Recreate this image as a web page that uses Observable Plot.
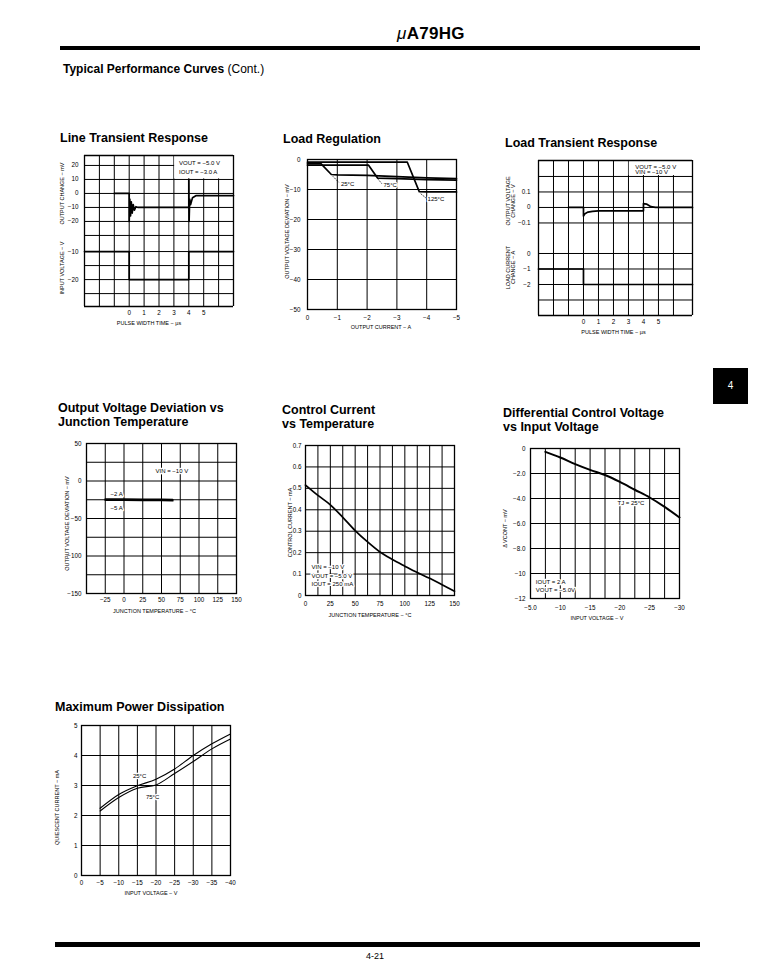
<!DOCTYPE html>
<html><head><meta charset="utf-8">
<script src="https://cdn.jsdelivr.net/npm/d3@7"></script>
<script src="https://cdn.jsdelivr.net/npm/@observablehq/plot@0.6"></script>
<style>
body{margin:0;background:#fff;}
#page{position:relative;width:760px;height:973px;overflow:hidden;font-family:"Liberation Sans",Arial,Helvetica,sans-serif;color:#000;background:#fff;}
.abs{position:absolute;white-space:nowrap;}
.ttl{font-weight:bold;font-size:12.5px;line-height:14px;}
</style></head><body><div id="page"></div>
<script>
// ---------------- DATA ----------------
// 1. Line Transient Response
const ltrOutT = [-1, 0, 0, 0.04, 0.09, 0.14, 0.2, 0.27, 0.35, 0.45, 0.6, 4, 4, 4.02, 4.06, 4.12, 4.25, 4.5, 7];
const ltrOutV = [0, 0, -20, -4, -16, -6, -14, -8, -12, -9.5, -10, -10, 10, -20, -4, -8, -3, -1.5, -1.5];
const ltrInT = [-3, 0, 0, 4, 4, 7];
const ltrInV = [-10, -10, -20, -20, -10, -10];
const ltrTimeTicks = [0, 1, 2, 3, 4, 5];
const ltrTimeGrid = [-2, -1, 0, 1, 2, 3, 4, 5, 6];
const ltrOutTicks = [20, 10, 0, -10, -20];
const ltrOutGrid = [20, 10, 0, -10, -20, -30];
const ltrInTicks = [-10, -20];
const ltrInGrid = [-10, -15, -20, -25];
const ltrNotes = ["VOUT = −5.0 V", "IOUT = −3.0 A"];
const ltrNoteT = [3.35, 3.35];
const ltrNoteV = [21.4, 15];

// 2. Load Regulation
const lrI25 = [0, -0.45, -0.8, -1, -2, -3, -4, -5];
const lrV25 = [-1.4, -1.4, -5, -5.1, -5.3, -5.7, -6.1, -6.4];
const lrI75 = [0, -2.05, -2.35, -3, -4, -5];
const lrV75 = [-1.9, -1.9, -6.2, -6.4, -6.7, -6.9];
const lrI125 = [0, -3.35, -3.75, -4, -5];
const lrV125 = [-0.9, -0.9, -10.7, -10.8, -10.8];
const lrLabels = ["25°C", "75°C", "125°C"];
const lrLabelI = [-1.12, -2.55, -4.03];
const lrLabelV = [-8.2, -8.6, -13.3];
const lrLeadI1 = [-0.85, -2.37, -3.8], lrLeadV1 = [-5.6, -6.6, -11.4];
const lrLeadI2 = [-1.05, -2.5, -3.97], lrLeadV2 = [-7.6, -8.1, -12.8];
const lrITicks = [0, -1, -2, -3, -4, -5];
const lrVTicks = [0, -10, -20, -30, -40, -50];

// 3. Load Transient Response
const ldtOutT = [-1, 0, 0, 0.1, 0.3, 0.6, 1, 4, 4, 4.2, 4.5, 4.8, 7.27];
const ldtOutV = [0, 0, -0.055, -0.04, -0.03, -0.025, -0.022, -0.022, 0.025, 0.022, 0.005, 0, 0];
const ldtLoadT = [-3, 0, 0, 7.27];
const ldtLoadA = [-1, -1, -2, -2];
const ldtTimeTicks = [0, 1, 2, 3, 4, 5];
const ldtTimeGrid = [-2, -1, 0, 1, 2, 3, 4, 5, 6];
const ldtOutTicks = [0.1, 0, -0.1];
const ldtOutGrid = [0.2, 0.1, 0, -0.1];
const ldtLoadTicks = [0, -1, -2];
const ldtLoadGrid = [0, -1, -2, -3];
const ldtNotes = ["VOUT = −5.0 V", "VIN = −10 V"];
const ldtNoteT = [3.45, 3.45];
const ldtNoteV = [0.262, 0.226];

// 4. Output Voltage Deviation vs Junction Temperature
const ovdT = [-25, 0, 25, 50, 65];
const ovd2A = [-24, -24, -24.3, -24.6, -24.8];
const ovd5A = [-25.5, -25.6, -25.8, -26, -26.2];
const ovdTTicks = [-25, 0, 25, 50, 75, 100, 125, 150];
const ovdTGrid = [-25, 0, 25, 50, 75, 100, 125];
const ovdVTicks = [50, 0, -50, -100, -150];
const ovdVGrid = [25, 0, -25, -50, -75, -100, -125];
const ovdNotes = ["−2 A", "−5 A", "VIN = −10 V"];
const ovdNoteT = [-18, -18, 42];
const ovdNoteV = [-18, -36, 13];

// 5. Control Current vs Temperature
const ccT = [0, 12.5, 25, 37.5, 50, 62.5, 75, 87.5, 100, 112.5, 125, 137.5, 150];
const ccI = [0.515, 0.467, 0.423, 0.365, 0.303, 0.25, 0.203, 0.168, 0.137, 0.107, 0.08, 0.05, 0.02];
const ccTTicks = [0, 25, 50, 75, 100, 125, 150];
const ccTGrid = [12.5, 25, 37.5, 50, 62.5, 75, 87.5, 100, 112.5, 125, 137.5];
const ccITicks = [0, 0.1, 0.2, 0.3, 0.4, 0.5, 0.6, 0.7];
const ccIGrid = [0.1, 0.2, 0.3, 0.4, 0.5, 0.6];
const ccNotes = ["VIN = −10 V", "VOUT = −5.0 V", "IOUT = 250 mA"];
const ccNoteT = [6, 6, 6];
const ccNoteI = [0.131, 0.092, 0.053];

// 6. Differential Control Voltage vs Input Voltage
const dcvVin = [-7.5, -10, -12.5, -15, -17.5, -20, -22.5, -25, -27.5, -30];
const dcvDv = [-0.27, -0.72, -1.25, -1.71, -2.12, -2.67, -3.3, -3.92, -4.67, -5.52];
const dcvXTicks = [-5, -10, -15, -20, -25, -30];
const dcvXLabels = ["−5.0", "−10", "−15", "−20", "−25", "−30"];
const dcvXGrid = [-7.5, -10, -12.5, -15, -17.5, -20, -22.5, -25, -27.5];
const dcvYTicks = [0, -2, -4, -6, -8, -10, -12];
const dcvYLabels = ["0", "−2.0", "−4.0", "−6.0", "−8.0", "−10", "−12"];
const dcvYGrid = [-2, -4, -6, -8, -10];
const dcvNotes = ["TJ = 25°C", "IOUT = 2 A", "VOUT = −5.0V"];
const dcvNoteX = [-19.6, -5.9, -5.9];
const dcvNoteY = [-4.4, -10.7, -11.3];

// 7. Maximum Power Dissipation (quiescent current)
const mpdVin = [-5, -10, -15, -20, -25, -30, -35, -40];
const mpd25 = [2.24, 2.7, 2.99, 3.21, 3.55, 4.0, 4.39, 4.72];
const mpd75 = [2.15, 2.6, 2.91, 3.02, 3.4, 3.8, 4.22, 4.55];
const mpdXTicks = [0, -5, -10, -15, -20, -25, -30, -35, -40];
const mpdXGrid = [-5, -10, -15, -20, -25, -30, -35];
const mpdYTicks = [0, 1, 2, 3, 4, 5];
const mpdYGrid = [1, 2, 3, 4];
const mpdLabels = ["25°C", "75°C"];
const mpdLabelX = [-13.8, -17.3];
const mpdLabelY = [3.33, 2.6];

// ---------------- DRAWING ----------------
const page = document.getElementById("page");
const FONT = '"Liberation Sans", Arial, Helvetica, sans-serif';
const G = {stroke: "black", strokeOpacity: 1, strokeWidth: 1};
const CURVE = {stroke: "black", strokeWidth: 1.7};
const THIN = {stroke: "black", strokeWidth: 1.1};
const mfmt = d => (d < 0 ? "\u2212" + Math.abs(d) : String(d));
const NOTE = {fontSize: 6, textAnchor: "start", fill: "black", stroke: "white", strokeWidth: 2.5};

function div(cls, html, left, top, extra) {
  const e = document.createElement("div");
  e.className = "abs " + (cls || "");
  e.innerHTML = html;
  e.style.left = left + "px";
  e.style.top = top + "px";
  if (extra) Object.assign(e.style, extra);
  page.appendChild(e);
  return e;
}
function chart(frame, xDomain, yDomain, marks) {
  const [x0, y0, x1, y1] = frame;
  const M = 50;
  const svg = Plot.plot({
    width: x1 - x0 + 2 * M, height: y1 - y0 + 2 * M,
    marginLeft: M, marginRight: M, marginTop: M, marginBottom: M,
    x: {domain: xDomain, axis: null},
    y: {domain: yDomain, axis: null},
    style: {fontFamily: FONT, fontSize: "6.3px", background: "transparent", color: "black", overflow: "visible"},
    marks
  });
  svg.style.position = "absolute";
  svg.style.left = (x0 - M) + "px";
  svg.style.top = (y0 - M) + "px";
  page.appendChild(svg);
}
function yLabel(text, dx, dy) {
  return Plot.text([text], {frameAnchor: "left", rotate: -90, dx, dy, text: d => d, lineAnchor: "middle", textAnchor: "middle", fontSize: 5.5});
}
function xLabel(text, dx, dy) {
  return Plot.text([text], {frameAnchor: "bottom", dx, dy, text: d => d, lineAnchor: "middle", textAnchor: "middle", fontSize: 5.5});
}
function xAxis(ticks, pad, labels) {
  return Plot.axisX(ticks, {anchor: "bottom", tickSize: 0, tickPadding: pad, label: null,
    tickFormat: labels ? (d => labels[ticks.indexOf(d)]) : mfmt});
}
function yAxis(ticks, pad, labels) {
  return Plot.axisY(ticks, {anchor: "left", tickSize: 0, tickPadding: pad, label: null,
    tickFormat: labels ? (d => labels[ticks.indexOf(d)]) : mfmt});
}
const EDGE = {stroke: "black", strokeWidth: 1.3};

// Page furniture
div("", '<span style="font-style:italic;font-weight:normal">μ</span>A79HG', 397, 24, {fontWeight: "bold", fontSize: "17px", letterSpacing: "0.3px"});
div("", "", 60, 46, {width: "640px", height: "4px", background: "#000"});
div("", '<b>Typical Performance Curves</b> (Cont.)', 63, 62, {fontSize: "12px"});
div("", "4", 713, 368, {width: "35px", height: "36px", background: "#000", color: "#fff", fontSize: "10px", lineHeight: "36px", textAlign: "center"});
div("", "", 55, 942, {width: "645px", height: "5px", background: "#000"});
div("", "4-21", 366, 951, {fontSize: "9px"});

// Titles
div("ttl", "Line Transient Response", 60, 131);
div("ttl", "Load Regulation", 283, 132);
div("ttl", "Load Transient Response", 505, 136);
div("ttl", "Output Voltage Deviation vs<br>Junction Temperature", 58, 401);
div("ttl", "Control Current<br>vs Temperature", 282, 403);
div("ttl", "Differential Control Voltage<br>vs Input Voltage", 503, 406);
div("ttl", "Maximum Power Dissipation", 55, 700);

// 1. Line Transient Response (upper: output change, lower: input voltage)
{
  const xd = [-3, 7], yu = [-32.9, 27.1], yl = [-29.6, -5.7];
  chart([84, 155, 233, 239], xd, yu, [
    Plot.gridX(ltrTimeGrid, G), Plot.gridY(ltrOutGrid, G),
    Plot.rect([0], {x1: 3.05, x2: 7, y1: 10.4, y2: 27.1, fill: "white"}),
    Plot.line(ltrOutT, {x: ltrOutT, y: ltrOutV, ...CURVE}),
    Plot.text(ltrNotes, {x: ltrNoteT, y: ltrNoteV, text: d => d, ...NOTE, stroke: null}),
    Plot.ruleX(xd, EDGE), Plot.ruleY([27.1], EDGE),
    yAxis(ltrOutTicks, 6),
    yLabel("OUTPUT CHANGE − mV", -22, -4)
  ]);
  chart([84, 239, 233, 306], xd, yl, [
    Plot.gridX(ltrTimeGrid, G), Plot.gridY(ltrInGrid, G),
    Plot.line(ltrInT, {x: ltrInT, y: ltrInV, ...CURVE}),
    Plot.ruleX(xd, EDGE), Plot.ruleY([-29.6], EDGE),
    yAxis(ltrInTicks, 6),
    xAxis(ltrTimeTicks, 4),
    yLabel("INPUT VOLTAGE − V", -22, -5),
    xLabel("PULSE WIDTH TIME − µs", -10, 17)
  ]);
}

// 2. Load Regulation
{
  chart([307, 159, 456, 309], [0, -5], [-50, 0], [
    Plot.gridX([-1, -2, -3, -4], G), Plot.gridY([-10, -20, -30, -40], G),
    Plot.line(lrI25, {x: lrI25, y: lrV25, ...CURVE}),
    Plot.line(lrI75, {x: lrI75, y: lrV75, ...CURVE}),
    Plot.line(lrI125, {x: lrI125, y: lrV125, ...CURVE}),
    Plot.link(lrLeadI1, {x1: lrLeadI1, y1: lrLeadV1, x2: lrLeadI2, y2: lrLeadV2, stroke: "black", strokeWidth: 0.8, strokeDasharray: "1.5,1"}),
    Plot.text(lrLabels, {x: lrLabelI, y: lrLabelV, text: d => d, ...NOTE}),
    Plot.frame(EDGE),
    yAxis(lrVTicks, 7), xAxis(lrITicks, 6),
    yLabel("OUTPUT VOLTAGE DEVIATION − mV", -20, -3),
    xLabel("OUTPUT CURRENT − A", -1, 18)
  ]);
}

// 3. Load Transient Response
{
  const xd = [-3, 7.27], yu = [-0.168, 0.303], yl = [-4.0, 1.29];
  chart([538, 160, 692, 233], xd, yu, [
    Plot.gridX(ldtTimeGrid, G), Plot.gridY(ldtOutGrid, G),
    Plot.rect([0], {x1: 3.05, x2: 7.27, y1: 0.206, y2: 0.303, fill: "white"}),
    Plot.line(ldtOutT, {x: ldtOutT, y: ldtOutV, ...CURVE}),
    Plot.text(ldtNotes, {x: ldtNoteT, y: ldtNoteV, text: d => d, ...NOTE, stroke: null}),
    Plot.ruleX(xd, EDGE), Plot.ruleY([0.303], EDGE),
    yAxis(ldtOutTicks, 8),
    yLabel("OUTPUT VOLTAGE\nCHANGE − V", -28, 4)
  ]);
  chart([538, 233, 692, 315], xd, yl, [
    Plot.gridX(ldtTimeGrid, G), Plot.gridY(ldtLoadGrid, G),
    Plot.line(ldtLoadT, {x: ldtLoadT, y: ldtLoadA, ...CURVE}),
    Plot.ruleX(xd, EDGE), Plot.ruleY([-4.0], EDGE),
    yAxis(ldtLoadTicks, 8),
    xAxis(ldtTimeTicks, 4),
    yLabel("LOAD CURRENT\nCHANGE − A", -28, -7),
    xLabel("PULSE WIDTH TIME − µs", -2, 17)
  ]);
}

// 4. Output Voltage Deviation vs Junction Temperature
{
  chart([86, 443, 236, 593], [-50, 150], [-150, 50], [
    Plot.gridX(ovdTGrid, G), Plot.gridY(ovdVGrid, G),
    Plot.line(ovdT, {x: ovdT, y: ovd2A, ...CURVE}),
    Plot.line(ovdT, {x: ovdT, y: ovd5A, ...CURVE}),
    Plot.text(ovdNotes, {x: ovdNoteT, y: ovdNoteV, text: d => d, ...NOTE}),
    Plot.frame(EDGE),
    yAxis(ovdVTicks, 5), xAxis(ovdTTicks, 4),
    yLabel("OUTPUT VOLTAGE DEVIATION − mV", -19, 5),
    xLabel("JUNCTION TEMPERATURE − °C", -7, 18)
  ]);
}

// 5. Control Current vs Temperature
{
  chart([305, 445, 454, 595], [0, 150], [0, 0.7], [
    Plot.gridX(ccTGrid, G), Plot.gridY(ccIGrid, G),
    Plot.line(ccT, {x: ccT, y: ccI, ...CURVE, curve: "monotone-x"}),
    Plot.text(ccNotes, {x: ccNoteT, y: ccNoteI, text: d => d, ...NOTE}),
    Plot.frame(EDGE),
    yAxis(ccITicks, 4), xAxis(ccTTicks, 6),
    yLabel("CONTROL CURRENT − mA", -15, 2),
    xLabel("JUNCTION TEMPERATURE − °C", -10, 20)
  ]);
}

// 6. Differential Control Voltage vs Input Voltage
{
  chart([530, 448, 679, 598], [-5, -30], [-12, 0], [
    Plot.gridX(dcvXGrid, G), Plot.gridY(dcvYGrid, G),
    Plot.line(dcvVin, {x: dcvVin, y: dcvDv, ...CURVE, strokeWidth: 2, curve: "monotone-x"}),
    Plot.text(dcvNotes, {x: dcvNoteX, y: dcvNoteY, text: d => d, ...NOTE}),
    Plot.frame(EDGE),
    yAxis(dcvYTicks, 5, dcvYLabels), xAxis(dcvXTicks, 7, dcvXLabels),
    yLabel("Δ VCONT − mV", -25, 5),
    xLabel("INPUT VOLTAGE − V", -8, 20)
  ]);
}

// 7. Maximum Power Dissipation
{
  chart([81, 725, 230, 875], [0, -40], [0, 5], [
    Plot.gridX(mpdXGrid, G), Plot.gridY(mpdYGrid, G),
    Plot.line(mpdVin, {x: mpdVin, y: mpd25, ...THIN, curve: "monotone-x"}),
    Plot.line(mpdVin, {x: mpdVin, y: mpd75, ...THIN, curve: "monotone-x"}),
    Plot.text(mpdLabels, {x: mpdLabelX, y: mpdLabelY, text: d => d, ...NOTE}),
    Plot.frame(EDGE),
    yAxis(mpdYTicks, 4), xAxis(mpdXTicks, 5),
    yLabel("QUIESCENT CURRENT − mA", -24, 7),
    xLabel("INPUT VOLTAGE − V", -5, 18)
  ]);
}
</script>
</body></html>
